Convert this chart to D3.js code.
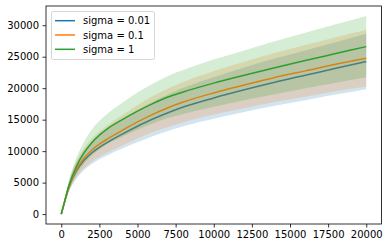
<!DOCTYPE html>
<html>
<head>
<meta charset="utf-8">
<script src="https://cdn.jsdelivr.net/npm/d3@7"></script>
<style>
  body { margin: 0; background: #fff; }
  svg { display: block; font-family: "DejaVu Sans", sans-serif; }
</style>
</head>
<body>
<div id="chart"></div>
<script>
const steps = [0, 250, 500, 1000, 1500, 2000, 2500, 3000, 4000, 5000, 6000, 7000, 8000, 10000, 12000, 14000, 16000, 18000, 20000];

const labels = ["sigma = 0.01", "sigma = 0.1", "sigma = 1"];

const meanBlue = [0, 2200, 4250, 6900, 8550, 9700, 10600, 11350, 12700, 13950, 15100, 16100, 17000, 18450, 19750, 20950, 22050, 23150, 24250];
const meanOrange = [0, 2250, 4350, 7150, 8900, 10150, 11100, 11900, 13300, 14650, 15850, 16900, 17800, 19250, 20500, 21700, 22750, 23800, 24750];
const meanGreen = [0, 2300, 4500, 7600, 9750, 11350, 12550, 13500, 15000, 16350, 17550, 18600, 19400, 20800, 22050, 23250, 24400, 25500, 26600];

const stdBlue = [0, 400, 760, 1240, 1540, 1750, 1900, 2050, 2300, 2550, 2750, 2900, 3050, 3300, 3550, 3750, 3950, 4150, 4400];
const stdOrange = [0, 400, 780, 1280, 1600, 1830, 2000, 2150, 2400, 2650, 2850, 3050, 3200, 3450, 3700, 3900, 4100, 4300, 4500];
const stdGreen = [0, 400, 800, 1350, 1750, 2050, 2250, 2400, 2700, 2950, 3150, 3350, 3500, 3750, 3950, 4200, 4400, 4650, 4880];

const xTicks = [0, 2500, 5000, 7500, 10000, 12500, 15000, 17500, 20000];
const yTicks = [0, 5000, 10000, 15000, 20000, 25000, 30000];

const colors = ["#1f77b4", "#ff7f0e", "#2ca02c"];

const means = [meanBlue, meanOrange, meanGreen];
const stds = [stdBlue, stdOrange, stdGreen];

const width = 388, height = 248;
const plotLeft = 46, plotRight = 381.5, plotTop = 6, plotBottom = 224;

const svg = d3.select("#chart")
  .append("svg")
  .attr("width", width)
  .attr("height", height);

// matplotlib style 5% margins around the data
const xMin = d3.min(steps), xMax = d3.max(steps);
const yMax = d3.max(means.map((m, k) => d3.max(m, (v, i) => v + stds[k][i])));
const yMin = 0;
const xPad = (xMax - xMin) * 0.05, yPad = (yMax - yMin) * 0.05;

const x = d3.scaleLinear().domain([xMin - xPad, xMax + xPad]).range([plotLeft, plotRight]);
const y = d3.scaleLinear().domain([yMin - yPad, yMax + yPad]).range([plotBottom, plotTop]);

const line = d3.line()
  .x((d, i) => x(steps[i]))
  .y(d => y(d))
  .curve(d3.curveMonotoneX);

const area = d3.area()
  .x((d, i) => x(steps[i]))
  .y0(d => y(d[0]))
  .y1(d => y(d[1]))
  .curve(d3.curveMonotoneX);

const plot = svg.append("g");

means.forEach((m, k) => {
  plot.append("path")
    .datum(m)
    .attr("d", line)
    .attr("fill", "none")
    .attr("stroke", colors[k])
    .attr("stroke-width", 1.5);

  plot.append("path")
    .datum(m.map((v, i) => [v - stds[k][i], v + stds[k][i]]))
    .attr("d", area)
    .attr("fill", colors[k])
    .attr("fill-opacity", 0.2)
    .attr("stroke", "none");
});

// axes
const xAxis = svg.append("g")
  .attr("transform", `translate(0,${plotBottom})`)
  .call(d3.axisBottom(x).tickValues(xTicks).tickSize(3.5).tickPadding(3.5).tickFormat(d3.format("d")));
const yAxis = svg.append("g")
  .attr("transform", `translate(${plotLeft},0)`)
  .call(d3.axisLeft(y).tickValues(yTicks).tickSize(3.5).tickPadding(3.5).tickFormat(d3.format("d")));

[xAxis, yAxis].forEach(a => {
  a.select(".domain").remove();
  a.selectAll("text").attr("font-size", 10).attr("font-family", "DejaVu Sans").attr("fill", "#000");
  a.selectAll("line").attr("stroke", "#000").attr("stroke-width", 0.8);
});

// frame
svg.append("rect")
  .attr("x", plotLeft)
  .attr("y", plotTop)
  .attr("width", plotRight - plotLeft)
  .attr("height", plotBottom - plotTop)
  .attr("fill", "none")
  .attr("stroke", "#000")
  .attr("stroke-width", 0.8);

// legend
const legend = svg.append("g");
legend.append("rect")
  .attr("x", 51.5)
  .attr("y", 11.5)
  .attr("width", 103)
  .attr("height", 48)
  .attr("rx", 2)
  .attr("fill", "#fff")
  .attr("fill-opacity", 0.8)
  .attr("stroke", "#ccc")
  .attr("stroke-width", 0.8);

labels.forEach((lab, k) => {
  const ly = 20.7 + k * 14.3;
  legend.append("line")
    .attr("x1", 55).attr("x2", 75)
    .attr("y1", ly).attr("y2", ly)
    .attr("stroke", colors[k])
    .attr("stroke-width", 1.5);
  legend.append("text")
    .attr("x", 83)
    .attr("y", ly)
    .attr("dy", "0.35em")
    .attr("font-size", 10)
    .attr("fill", "#000")
    .text(lab);
});
</script>
</body>
</html>
